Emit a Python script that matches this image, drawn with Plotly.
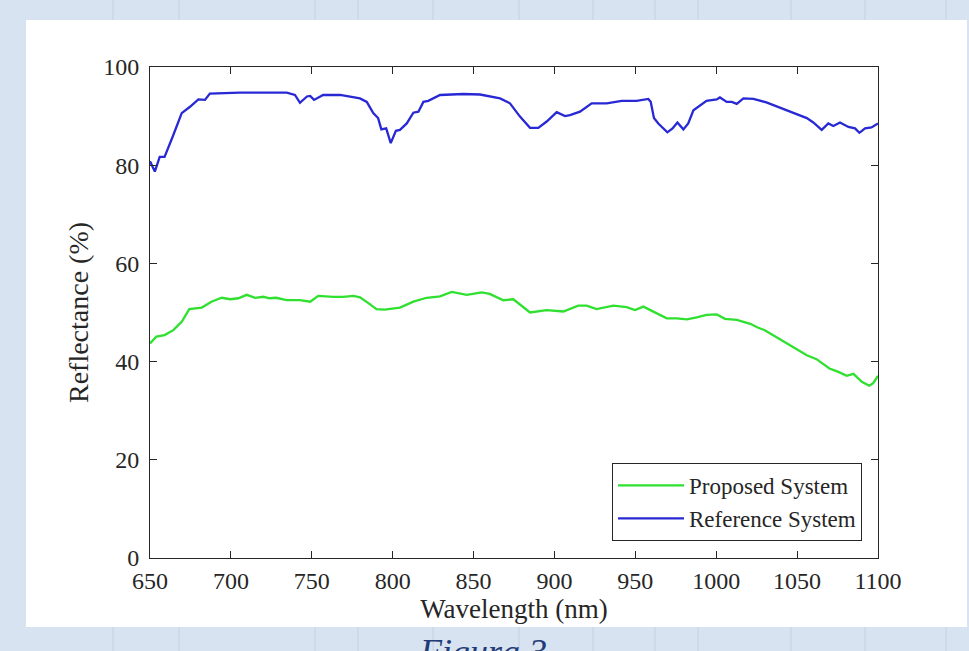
import plotly.graph_objects as go

# Reference System (blue)
ref_wl = [650, 653, 656, 659, 664, 669.6, 674.7, 679.9, 684, 687, 705.6, 734.5, 739.6, 742.7,
          747, 749, 751.4, 757, 767.5, 779.8, 784, 788, 791, 793, 796, 798.8, 802, 804.5,
          808.7, 812.8, 815.9, 819, 822, 829.3, 843.7, 854, 866.4, 872.5, 878.7, 884.9,
          890, 895.2, 901.4, 906.5, 909.6, 915.8, 923, 932.3, 941.6, 950.8, 958, 959.5,
          961.5, 964.2, 969.8, 973, 976, 979.7, 982.7, 985.9, 994, 1000.3, 1002.3, 1006.5,
          1009.6, 1012.7, 1016.8, 1023, 1031, 1039.5, 1047.7, 1056, 1060, 1065.2, 1069.3,
          1072.4, 1076.5, 1081.7, 1085.8, 1088.5, 1092, 1096, 1100]
ref_val = [80.8, 78.7, 81.7, 81.7, 85.8, 90.6, 91.9, 93.4, 93.3, 94.6, 94.8, 94.8, 94.3, 92.7,
           94.0, 94.1, 93.3, 94.3, 94.3, 93.6, 92.9, 90.6, 89.6, 87.3, 87.5, 84.5, 87.0, 87.2,
           88.5, 90.7, 90.9, 92.9, 93.1, 94.3, 94.5, 94.4, 93.6, 92.6, 89.9, 87.6,
           87.6, 88.9, 90.8, 90.0, 90.2, 90.9, 92.6, 92.6, 93.1, 93.1, 93.5, 92.9,
           89.6, 88.5, 86.7, 87.5, 88.7, 87.3, 88.5, 91.2, 93.1, 93.4, 93.8, 92.9,
           92.9, 92.5, 93.6, 93.5, 92.8, 91.7, 90.7, 89.6, 88.7, 87.2, 88.5,
           88.0, 88.7, 87.8, 87.5, 86.6, 87.5, 87.7, 88.5]

# Proposed System (green)
prop_wl = [650, 654, 659, 664.4, 669.6, 674.3, 682, 688, 694.3, 699.5, 704.6, 709.8, 715, 720,
           724, 728, 734.5, 742.7, 749, 754, 763.3, 769.5, 775.7, 779.8, 785, 790, 795, 804.5,
           812.8, 821, 829.3, 836.5, 845.8, 855, 860, 868.4, 874.6, 884.9, 895.2, 905.5,
           914.7, 919.9, 926, 936.4, 944.6, 949.8, 955, 961, 969.4, 975.6, 981.8, 988, 994,
           1000.3, 1005.4, 1012.7, 1021, 1026, 1030, 1036, 1047.7, 1056, 1062, 1070, 1075.5,
           1080.7, 1084.8, 1090, 1094.6, 1097, 1100]
prop_val = [43.7, 45.1, 45.4, 46.4, 48.1, 50.7, 51.0, 52.2, 53.0, 52.7, 52.9, 53.6, 53.0, 53.2,
            52.9, 53.0, 52.5, 52.5, 52.2, 53.4, 53.2, 53.2, 53.4, 53.1, 51.9, 50.7, 50.6, 51.0,
            52.2, 53.0, 53.3, 54.2, 53.6, 54.1, 53.8, 52.5, 52.7, 50.0, 50.5, 50.2,
            51.4, 51.4, 50.7, 51.4, 51.1, 50.5, 51.2, 50.2, 48.8, 48.8, 48.6, 49.0, 49.5,
            49.6, 48.7, 48.5, 47.7, 46.9, 46.4, 45.2, 43.0, 41.3, 40.5, 38.6, 37.9,
            37.1, 37.5, 35.9, 35.1, 35.6, 37.1]

x_ticks = [650, 700, 750, 800, 850, 900, 950, 1000, 1050, 1100]
y_ticks = [0, 20, 40, 60, 80, 100]

FONT = "Liberation Serif, Times New Roman, serif"
AX = "#262626"

fig = go.Figure()
fig.add_trace(go.Scatter(x=prop_wl, y=prop_val, mode="lines", name="Proposed System",
                         line=dict(color="#2fe02f", width=2.3)))
fig.add_trace(go.Scatter(x=ref_wl, y=ref_val, mode="lines", name="Reference System",
                         line=dict(color="#2828d4", width=2.3)))

L, R, T, B = 150, 91, 67, 93
W, H = 969, 651
pw, ph = W - L - R, H - T - B

def px_x(p):
    return (p - L) / pw

def px_y(p):
    return (H - B - p) / ph

# faint decorative lines in the page background
for bx in [113, 179, 315, 358, 433, 519, 593, 655, 698, 791, 865, 946]:
    fig.add_shape(type="line", xref="paper", yref="paper",
                  x0=px_x(bx), x1=px_x(bx), y0=px_y(651), y1=px_y(0),
                  line=dict(color="#cbd7e8", width=1.5), layer="below")

# white panel
fig.add_shape(type="rect", xref="paper", yref="paper",
              x0=px_x(26), x1=px_x(967), y0=px_y(627), y1=px_y(20),
              fillcolor="white", line=dict(width=0), layer="below")

axis_common = dict(showline=True, linecolor=AX, linewidth=1, mirror="ticks",
                   ticks="inside", ticklen=7, tickcolor=AX, showgrid=False, zeroline=False,
                   tickfont=dict(family=FONT, size=24, color=AX))

fig.update_xaxes(range=[650, 1100], tickvals=x_ticks, ticklabelstandoff=1,
                 title=dict(text="Wavelength (nm)", font=dict(family=FONT, size=27, color=AX),
                            standoff=4),
                 **axis_common)
fig.update_yaxes(range=[0, 100], tickvals=y_ticks, ticklabelstandoff=5,
                 title=dict(text="Reflectance (%)", font=dict(family=FONT, size=28, color=AX),
                            standoff=6),
                 **axis_common)

fig.add_annotation(text="<i>Figura 3</i>", xref="paper", yref="paper",
                   x=px_x(483), y=px_y(630), xanchor="center", yanchor="top",
                   showarrow=False, font=dict(family=FONT, size=36, color="#1f3c78"))

fig.update_layout(
    width=W, height=H,
    margin=dict(l=L, r=R, t=T, b=B, pad=0),
    paper_bgcolor="#d8e3f1",
    plot_bgcolor="white",
    font=dict(family=FONT, color=AX),
    legend=dict(x=px_x(862), y=px_y(541), xanchor="right", yanchor="bottom",
                bgcolor="white", bordercolor=AX, borderwidth=1,
                font=dict(family=FONT, size=23, color=AX),
                tracegroupgap=0, itemwidth=66),
    showlegend=True,
)

fig.write_html("out.html", config={"displayModeBar": False},
               post_script="document.body.style.margin='0';document.body.style.padding='0';")
